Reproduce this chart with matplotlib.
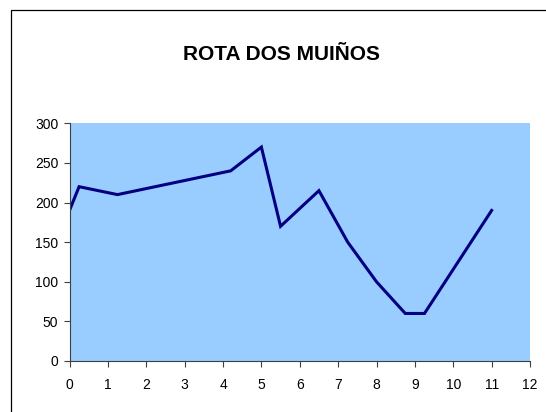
import matplotlib
matplotlib.use('Agg')
import matplotlib.pyplot as plt
from matplotlib.patches import Rectangle

plt.rcParams['font.family'] = ['Liberation Sans', 'DejaVu Sans']

# Data
distance = [0, 0.25, 1.25, 4.2, 5, 5.5, 6.5, 7.25, 8, 8.75, 9.25, 11]
altitude = [190, 220, 210, 240, 270, 170, 215, 150, 100, 60, 60, 190]
x_ticks = list(range(0, 13))
y_ticks = [0, 50, 100, 150, 200, 250, 300]
title = 'ROTA DOS MUIÑOS'

fig = plt.figure(figsize=(5.46, 4.12), dpi=100)
ax = fig.add_axes([69.5 / 546, 1 - 361 / 412, (530 - 69.5) / 546, (361 - 123.3) / 412])

ax.set_facecolor('#99CCFF')
ax.plot(distance, altitude, color='#000080', linewidth=2.2, solid_joinstyle='miter')

ax.set_xlim(0, 12)
ax.set_ylim(0, 300)
ax.set_xticks(x_ticks)
ax.set_yticks(y_ticks)
ax.tick_params(axis='both', labelsize=10, length=4, width=0.8, color='#404040')
ax.tick_params(axis='x', pad=8)
ax.tick_params(axis='y', pad=4)

for side in ['top', 'right']:
    ax.spines[side].set_visible(False)
for side in ['left', 'bottom']:
    ax.spines[side].set_color('#404040')
    ax.spines[side].set_linewidth(0.8)

fig.text(281.7 / 546, 1 - 55 / 412, title, ha='center', va='center',
         fontsize=15, fontweight='bold')

# outer chart border (cropped on the right and bottom)
fig.patches.append(Rectangle((10.5 / 546, -0.1), 1.2, 1.1 - 10.5 / 412,
                             transform=fig.transFigure, fill=False,
                             edgecolor='black', linewidth=0.9))

fig.savefig('out.png', dpi=100)
